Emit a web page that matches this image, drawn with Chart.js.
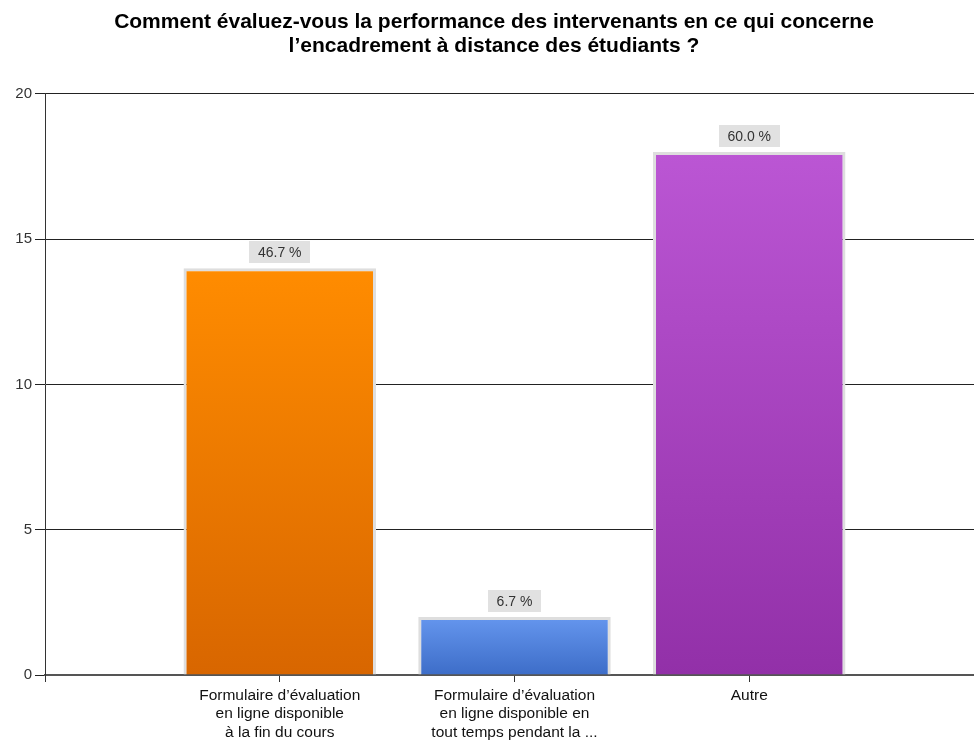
<!DOCTYPE html>
<html lang="fr">
<head>
<meta charset="utf-8">
<title>Encadrement à distance des étudiants</title>
<script src="https://cdn.jsdelivr.net/npm/chart.js@4/dist/chart.umd.min.js"></script>
<style>
  html, body { margin: 0; padding: 0; background: #ffffff; overflow: hidden; }
  #wrap { width: 988px; height: 745px; }
</style>
</head>
<body>
<div id="wrap"><canvas id="chart" width="988" height="745"></canvas></div>
<script>
// Réponses à la question (plusieurs choix possibles)
const categories = [
  '',
  ['Formulaire d\u2019évaluation', 'en ligne disponible', 'à la fin du cours'],
  ['Formulaire d\u2019évaluation', 'en ligne disponible en', 'tout temps pendant la ...'],
  ['Autre'],
  ''
];
const counts = [null, 14, 2, 18, null];
const respondents = 30;
const yTicks = [0, 5, 10, 15, 20];

// Dégradés : couleur du haut, couleur du bas
const topColors = [null, '#ff8c00', '#6596ee', '#bb56d4', null];
const bottomColors = [null, '#d86600', '#3d6dc8', '#9230a8', null];

function barGradient(ctx) {
  const chart = ctx.chart;
  const i = ctx.dataIndex;
  const v = counts[i];
  if (v == null || !chart.chartArea) return topColors[i] || '#999';
  const y = chart.scales.y;
  const g = chart.ctx.createLinearGradient(0, y.getPixelForValue(v), 0, y.getPixelForValue(0));
  g.addColorStop(0, topColors[i]);
  g.addColorStop(1, bottomColors[i]);
  return g;
}

// Étiquettes de pourcentage au-dessus des barres
const percentLabels = {
  id: 'percentLabels',
  afterDatasetsDraw(chart) {
    const ctx = chart.ctx;
    const meta = chart.getDatasetMeta(0);
    ctx.save();
    ctx.font = '14px "Liberation Sans", Arial, sans-serif';
    ctx.textAlign = 'center';
    ctx.textBaseline = 'middle';
    meta.data.forEach((bar, i) => {
      const v = counts[i];
      if (v == null) return;
      const text = (v / respondents * 100).toFixed(1) + ' %';
      const w = ctx.measureText(text).width + 17;
      const h = 22;
      const x = bar.x;
      const bottom = bar.y - 5;
      ctx.fillStyle = '#e1e1e1';
      ctx.fillRect(Math.round(x - w / 2), Math.round(bottom - h), Math.round(w), h);
      ctx.fillStyle = '#333333';
      ctx.fillText(text, x, bottom - h / 2 + 1);
    });
    ctx.restore();
  }
};

new Chart(document.getElementById('chart'), {
  type: 'bar',
  data: {
    labels: categories,
    datasets: [{
      data: counts,
      backgroundColor: barGradient,
      borderColor: '#dedede',
      borderWidth: 3,
      barPercentage: 0.82,
      categoryPercentage: 1
    }]
  },
  options: {
    responsive: false,
    animation: false,
    layout: { padding: 0 },
    plugins: {
      legend: { display: false },
      tooltip: { enabled: false },
      title: {
        display: true,
        text: [
          'Comment évaluez-vous la performance des intervenants en ce qui concerne',
          'l\u2019encadrement à distance des étudiants ?'
        ],
        color: '#000000',
        font: { family: '"Liberation Sans", Arial, sans-serif', size: 21, weight: 'bold', lineHeight: 1.14 },
        padding: { top: 10, bottom: 36 }
      }
    },
    scales: {
      x: {
        offset: false,
        border: { display: true, color: '#555555', width: 2 },
        grid: {
          offset: false,
          drawOnChartArea: false,
          drawTicks: true,
          tickLength: 7,
          color: '#333333'
        },
        ticks: {
          autoSkip: false,
          maxRotation: 0,
          color: '#111111',
          padding: 4,
          font: { family: '"Liberation Sans", Arial, sans-serif', size: 15.5, lineHeight: 1.2 }
        },
        afterFit(scale) { scale.height = 70; }
      },
      y: {
        min: 0,
        max: 20,
        afterBuildTicks(scale) { scale.ticks = yTicks.map(v => ({ value: v })); },
        border: { display: true, color: '#333333', width: 1 },
        grid: {
          color: '#222222',
          lineWidth: 1,
          tickLength: 10
        },
        ticks: {
          color: '#333333',
          padding: 3,
          font: { family: '"Liberation Sans", Arial, sans-serif', size: 15 }
        },
        afterFit(scale) { scale.width = 45; }
      }
    }
  },
  plugins: [percentLabels]
});
</script>
</body>
</html>
